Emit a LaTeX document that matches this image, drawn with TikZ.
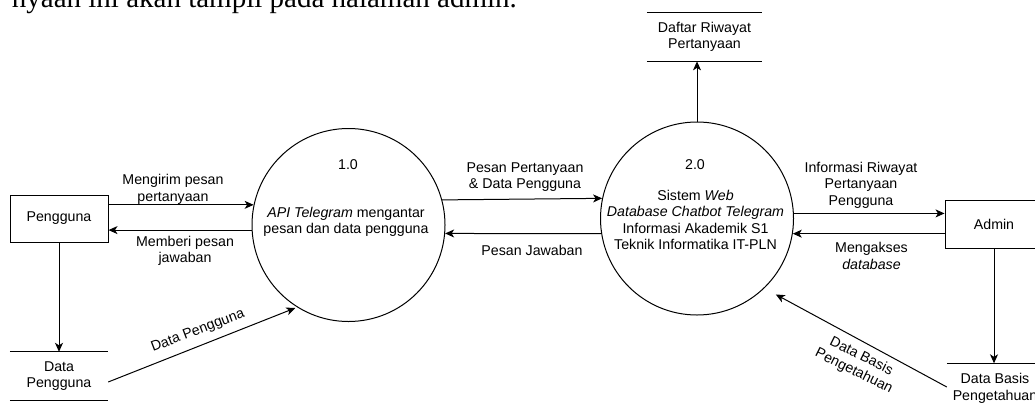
\documentclass[tikz,border=0pt]{standalone}
\usepackage{fontspec}
\setmainfont{Liberation Sans}
\newfontfamily\capfont{Liberation Serif}
\usetikzlibrary{arrows.meta}
\begin{document}
\begin{tikzpicture}[x=1pt,y=-1pt,
  ln/.style={line width=1pt},
  arr/.style={ln,-{Stealth[length=9pt,width=8pt,inset=2.5pt]}},
  txt/.style={font=\fontsize{14.2}{16.5}\selectfont, align=center, inner sep=0pt},
  lbl/.style={txt},
  proc/.style={circle, draw, ln, minimum size=193pt, inner sep=0pt},
  ent/.style={txt, draw, ln, minimum width=98pt, minimum height=47pt},
  store/.style={txt, minimum height=48pt}]
\fill[white] (0,0) rectangle (1035,405);
\useasboundingbox (0,0) rectangle (1035,405);
% cropped caption line from the page above
\node[anchor=base east, inner sep=0pt] (cap) at (517,7) {\capfont\fontsize{29}{34}\selectfont nyaan ini akan tampil pada halaman admin.};
% entities and stores
\node[ent] (peng) at (59,218.5) {Pengguna};
\node[store, minimum width=98pt] (dp) at (59,376) {Data\\Pengguna};
\node[proc] (p1) at (348.5,225) {};
\node[proc] (p2) at (697,218.5) {};
\node[store, minimum width=115pt, minimum height=48.3pt] (drp) at (704.5,37) {Daftar Riwayat\\Pertanyaan};
\node[ent, minimum height=48pt] (adm) at (994,224) {Admin};
\node[store, minimum width=96pt, minimum height=50pt] (dbp) at (995,388.5) {Data Basis\\Pengetahuan};
\draw[ln] (dp.north west) -- (dp.north east) (dp.south west) -- (dp.south east);
\draw[ln] (drp.north west) -- (drp.north east) (drp.south west) -- (drp.south east);
\draw[ln] (dbp.north west) -- (dbp.north east) (dbp.south west) -- (dbp.south east);
% process texts
\node[txt] (n1) at (348,165) {1.0};
\node[txt] (t1) at (346,222) {\textit{API Telegram} mengantar\\pesan dan data pengguna};
\node[txt] (n2) at (695,165) {2.0};
\node[txt] (t2) at (695.5,220) {Sistem \textit{Web}\\\textit{Database Chatbot Telegram}\\Informasi Akademik S1\\Teknik Informatika IT-PLN};
% connectors
\draw[arr] (peng.east |- p1.168.6) -- (p1.168.6);
\draw[arr] (p1.183.6) -- (peng.east |- p1.183.6);
\draw[arr] (p1.15) -- (p2.168.9);
\draw[arr] (p2.189.85) -- (p1.-5.95);
\draw[arr] (p2.3.27) -- (adm.west |- p2.3.27);
\draw[arr] (adm.west |- p2.-9.85) -- (p2.-9.85);
\draw[arr] (peng.south) -- (dp.north);
\draw[arr, shorten >=2pt] ([yshift=-6pt]dp.east) -- (p1.238);
\draw[arr] (adm.south) -- (adm.south |- dbp.north);
\draw[arr, shorten >=13pt] ([yshift=1.5pt]dbp.west) -- (p2.-46.5);
\draw[arr] (p2.north) -- (p2.north |- drp.south);
% connector labels
\node[lbl] (la1) at (173,189.5) {Mengirim pesan\\pertanyaan};
\node[lbl] (la2) at (185,251) {Memberi pesan\\jawaban};
\node[lbl] (lb1) at (525,177) {Pesan Pertanyaan\\\& Data Pengguna};
\node[lbl] (lb2) at (532,250) {Pesan Jawaban};
\node[lbl] (lc1) at (861,185) {Informasi Riwayat\\Pertanyaan\\Pengguna};
\node[lbl] (lc2) at (871.5,256) {Mengakses\\\textit{database}};
\node[lbl, rotate=20.8] (le) at (198,331) {Data Pengguna};
\node[lbl, rotate=-26.5] (lg) at (857.5,364) {Data Basis\\Pengetahuan};
\end{tikzpicture}
\end{document}
